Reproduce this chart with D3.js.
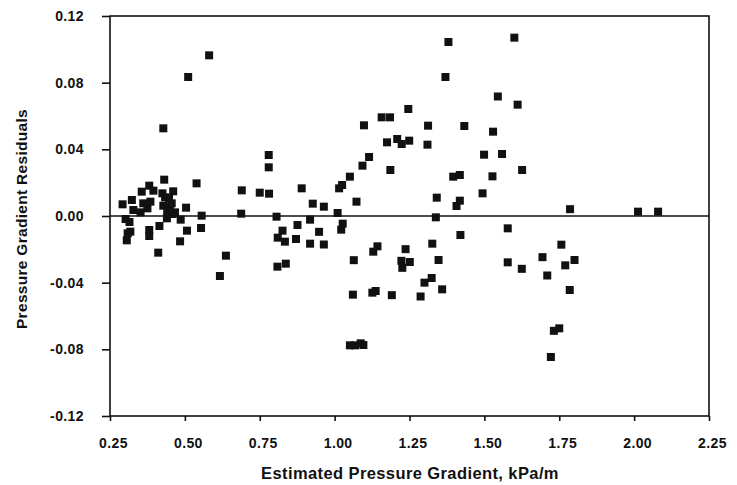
<!DOCTYPE html>
<html>
<head>
<meta charset="utf-8">
<script src="https://cdn.jsdelivr.net/npm/d3@7"></script>
<style>
  body { margin: 0; background: #fff; }
  text { font-family: "Liberation Sans", Arial, sans-serif; font-weight: bold; fill: #111; }
</style>
</head>
<body>
<script>
// Estimated pressure gradient (kPa/m) for each observation
const estimated = [
  0.292, 0.323, 0.356, 0.381, 0.395, 0.431, 0.461, 0.539, 0.328, 0.352,
  0.361, 0.385, 0.375, 0.434, 0.428, 0.450, 0.456, 0.441, 0.467, 0.504,
  0.556, 0.302, 0.315, 0.440, 0.486, 0.415, 0.309, 0.318, 0.306, 0.381,
  0.381, 0.507, 0.554, 0.484, 0.411, 0.425, 0.459, 0.428, 0.511, 0.581,
  0.617, 0.637, 0.447,
  0.688, 0.690, 0.750, 0.781, 0.780, 0.780, 0.890, 0.927, 0.964, 1.015,
  1.010, 0.806, 0.918, 0.876, 0.826, 0.810, 0.834, 0.871, 0.948, 0.918,
  0.964, 1.027, 1.022, 0.809, 0.837,
  1.025, 1.051, 1.073, 1.093, 1.115, 1.098, 1.157, 1.185, 1.246, 1.175,
  1.209, 1.224, 1.249, 1.186, 1.312, 1.310, 1.341, 1.338, 1.370, 1.380,
  1.064, 1.061, 1.126, 1.137, 1.191, 1.129, 1.143, 1.237, 1.223, 1.251,
  1.226, 1.287, 1.300, 1.324, 1.359, 1.326, 1.347, 1.051, 1.068, 1.087,
  1.096,
  1.396, 1.418, 1.407, 1.418, 1.420, 1.433, 1.494, 1.499, 1.527, 1.529,
  1.545, 1.559, 1.600, 1.611, 1.626, 1.578, 1.578, 1.625, 1.694, 1.710,
  1.757, 1.770, 1.801, 1.785, 1.786, 1.732, 1.750, 1.722, 2.013, 2.080
];

// Pressure gradient residuals, same order
const residuals = [
  0.0070, 0.0096, 0.0146, 0.0182, 0.0152, 0.0218, 0.0148, 0.0196, 0.0036, 0.0022,
  0.0076, 0.0086, 0.0046, 0.0112, 0.0062, 0.0056, 0.0076, 0.0026, 0.0022, 0.0050,
  0.0002, -0.0018, -0.0036, -0.0014, -0.0022, -0.0060, -0.0104, -0.0094, -0.0146, -0.0084,
  -0.0120, -0.0088, -0.0072, -0.0152, -0.0220, 0.0136, 0.0012, 0.0526, 0.0834, 0.0964,
  -0.0360, -0.0238, 0.0105,
  0.0014, 0.0154, 0.0140, 0.0134, 0.0366, 0.0292, 0.0166, 0.0074, 0.0056, 0.0166,
  0.0018, -0.0004, -0.0022, -0.0054, -0.0088, -0.0130, -0.0154, -0.0138, -0.0095, -0.0166,
  -0.0171, -0.0046, -0.0082, -0.0304, -0.0286,
  0.0186, 0.0236, 0.0086, 0.0302, 0.0354, 0.0544, 0.0592, 0.0592, 0.0642, 0.0442,
  0.0462, 0.0432, 0.0452, 0.0276, 0.0542, 0.0428, 0.0110, -0.0008, 0.0834, 0.1044,
  -0.0265, -0.0472, -0.0460, -0.0450, -0.0475, -0.0214, -0.0182, -0.0199, -0.0269, -0.0276,
  -0.0311, -0.0483, -0.0400, -0.0372, -0.0440, -0.0166, -0.0264, -0.0776, -0.0776, -0.0764,
  -0.0774,
  0.0236, 0.0246, 0.0060, 0.0092, -0.0114, 0.0540, 0.0136, 0.0368, 0.0238, 0.0506,
  0.0717, 0.0372, 0.1070, 0.0668, 0.0276, -0.0074, -0.0278, -0.0317, -0.0247, -0.0357,
  -0.0172, -0.0296, -0.0264, -0.0444, 0.0041, -0.0689, -0.0674, -0.0846, 0.0026, 0.0026
];

const xTicks = [0.25, 0.50, 0.75, 1.00, 1.25, 1.50, 1.75, 2.00, 2.25];
const yTicks = [-0.12, -0.08, -0.04, 0.00, 0.04, 0.08, 0.12];

const data = estimated.map((e, i) => ({ x: e, y: residuals[i] }));

const width = 737;
const height = 485;
const margin = { top: 16, right: 28, bottom: 69, left: 110 };
const w = width - margin.left - margin.right;
const h = height - margin.top - margin.bottom;

const svg = d3.select('body')
  .append('svg')
  .attr('width', width)
  .attr('height', height);

const g = svg.append('g')
  .attr('transform', `translate(${margin.left},${margin.top})`);

// Scales
const xScale = d3.scaleLinear().domain([0.25, 2.25]).range([0, w]);
const yScale = d3.scaleLinear().domain([-0.12, 0.12]).range([h, 0]);

const fmt = d => d.toFixed(2);

// x axis
const xAxis = g.append('g')
  .attr('transform', `translate(0,${h})`)
  .call(d3.axisBottom(xScale).tickValues(xTicks).tickFormat(fmt).tickSize(5).tickPadding(17));
xAxis.select('.domain').remove();
xAxis.selectAll('line').attr('stroke', '#111').attr('stroke-width', 1.6);
xAxis.selectAll('text').attr('font-size', 14).attr('letter-spacing', 0.4).attr('dx', 3);

// y axis
const yAxis = g.append('g')
  .call(d3.axisLeft(yScale).tickValues(yTicks).tickFormat(fmt).tickSize(8).tickPadding(18));
yAxis.select('.domain').remove();
yAxis.selectAll('line').attr('stroke', '#111').attr('stroke-width', 1.6);
yAxis.selectAll('text').attr('font-size', 14).attr('letter-spacing', 0.4);

// Frame
g.append('rect')
  .attr('x', 0).attr('y', 0)
  .attr('width', w).attr('height', h)
  .attr('fill', 'none')
  .attr('stroke', '#111')
  .attr('stroke-width', 1.6);

// Zero line
g.append('line')
  .attr('x1', 0).attr('x2', w)
  .attr('y1', yScale(0)).attr('y2', yScale(0))
  .attr('stroke', '#111')
  .attr('stroke-width', 1.6);

// Points
const size = 8;
g.selectAll('rect.pt')
  .data(data)
  .enter().append('rect')
  .attr('class', 'pt')
  .attr('x', d => xScale(d.x) - size / 2)
  .attr('y', d => yScale(d.y) - size / 2)
  .attr('width', size)
  .attr('height', size)
  .attr('fill', '#111');

// Axis titles
svg.append('text')
  .attr('x', 410)
  .attr('y', 479)
  .attr('text-anchor', 'middle')
  .attr('font-size', 16.5)
  .attr('letter-spacing', 0.4)
  .text('Estimated Pressure Gradient, kPa/m');

svg.append('text')
  .attr('transform', 'translate(27,219) rotate(-90)')
  .attr('text-anchor', 'middle')
  .attr('font-size', 15.5)
  .attr('letter-spacing', 0.3)
  .text('Pressure Gradient Residuals');
</script>
</body>
</html>
